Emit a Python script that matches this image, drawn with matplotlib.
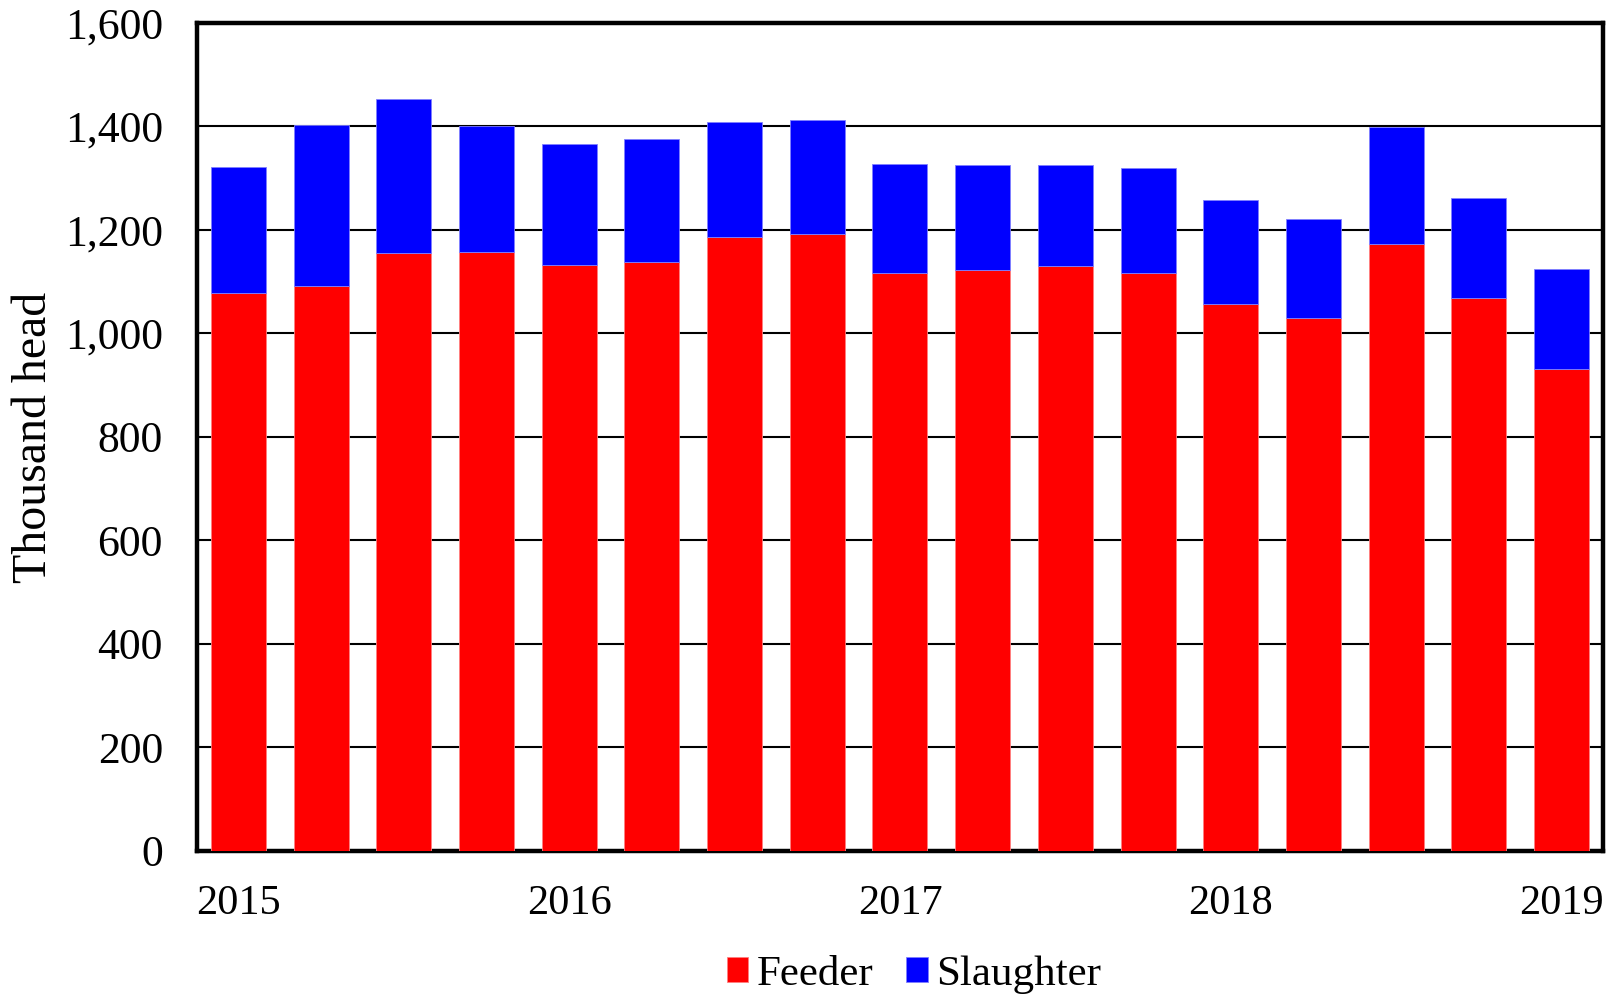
import matplotlib
matplotlib.use("Agg")
import matplotlib.pyplot as plt
import numpy as np

periods = ["2015 Q1", "2015 Q2", "2015 Q3", "2015 Q4",
           "2016 Q1", "2016 Q2", "2016 Q3", "2016 Q4",
           "2017 Q1", "2017 Q2", "2017 Q3", "2017 Q4",
           "2018 Q1", "2018 Q2", "2018 Q3", "2018 Q4",
           "2019 Q1"]
feeder = [1078, 1092, 1155, 1158, 1133, 1139, 1187, 1193, 1117, 1123, 1131, 1116, 1056, 1030, 1172, 1069, 931]
total = [1321, 1403, 1453, 1401, 1366, 1376, 1408, 1412, 1328, 1326, 1326, 1320, 1257, 1221, 1399, 1262, 1124]
slaughter = [t - f for t, f in zip(total, feeder)]
year_labels = ["2015", "2016", "2017", "2018", "2019"]
year_positions = [0, 4, 8, 12, 16]
yticks = [0, 200, 400, 600, 800, 1000, 1200, 1400, 1600]

plt.rcParams['font.family'] = ['Liberation Serif', 'DejaVu Serif']

fig = plt.figure(figsize=(16.17, 9.94), dpi=100)
ax = fig.add_axes([0.1218, 0.1439, 0.8695, 0.833])

x = np.arange(len(periods))
w = 0.665
ax.bar(x, feeder, width=w, color='#FF0000', edgecolor='#FF8080', linewidth=0.6, label='Feeder', zorder=3)
ax.bar(x, slaughter, width=w, bottom=feeder, color='#0000FF', edgecolor='#8080FF', linewidth=0.6, label='Slaughter', zorder=3)

ax.set_xlim(-0.5, len(periods) - 0.5)
ax.set_ylim(0, 1600)
ax.set_yticks(yticks)
ax.set_yticklabels([f"{v:,}" for v in yticks], fontsize=31.5)
ax.set_xticks(year_positions)
ax.set_xticklabels(year_labels, fontsize=30.5)
ax.tick_params(axis='x', length=0, pad=24)
ax.tick_params(axis='y', length=0, pad=24.5)
ax.yaxis.grid(True, color='black', linewidth=1.5, zorder=1)
ax.set_axisbelow(True)
for s in ax.spines.values():
    s.set_linewidth(3.2)
    s.set_color('black')

ax.set_ylabel("Thousand head", fontsize=34.5)
ax.yaxis.set_label_coords(-0.1, 0.5)

ax.legend(loc='upper center', bbox_to_anchor=(0.51, -0.105), ncol=2, frameon=False,
          fontsize=31, handlelength=0.5, handleheight=0.5, handletextpad=0.2,
          columnspacing=0.75, borderaxespad=0)

fig.savefig("out.png", dpi=100)
